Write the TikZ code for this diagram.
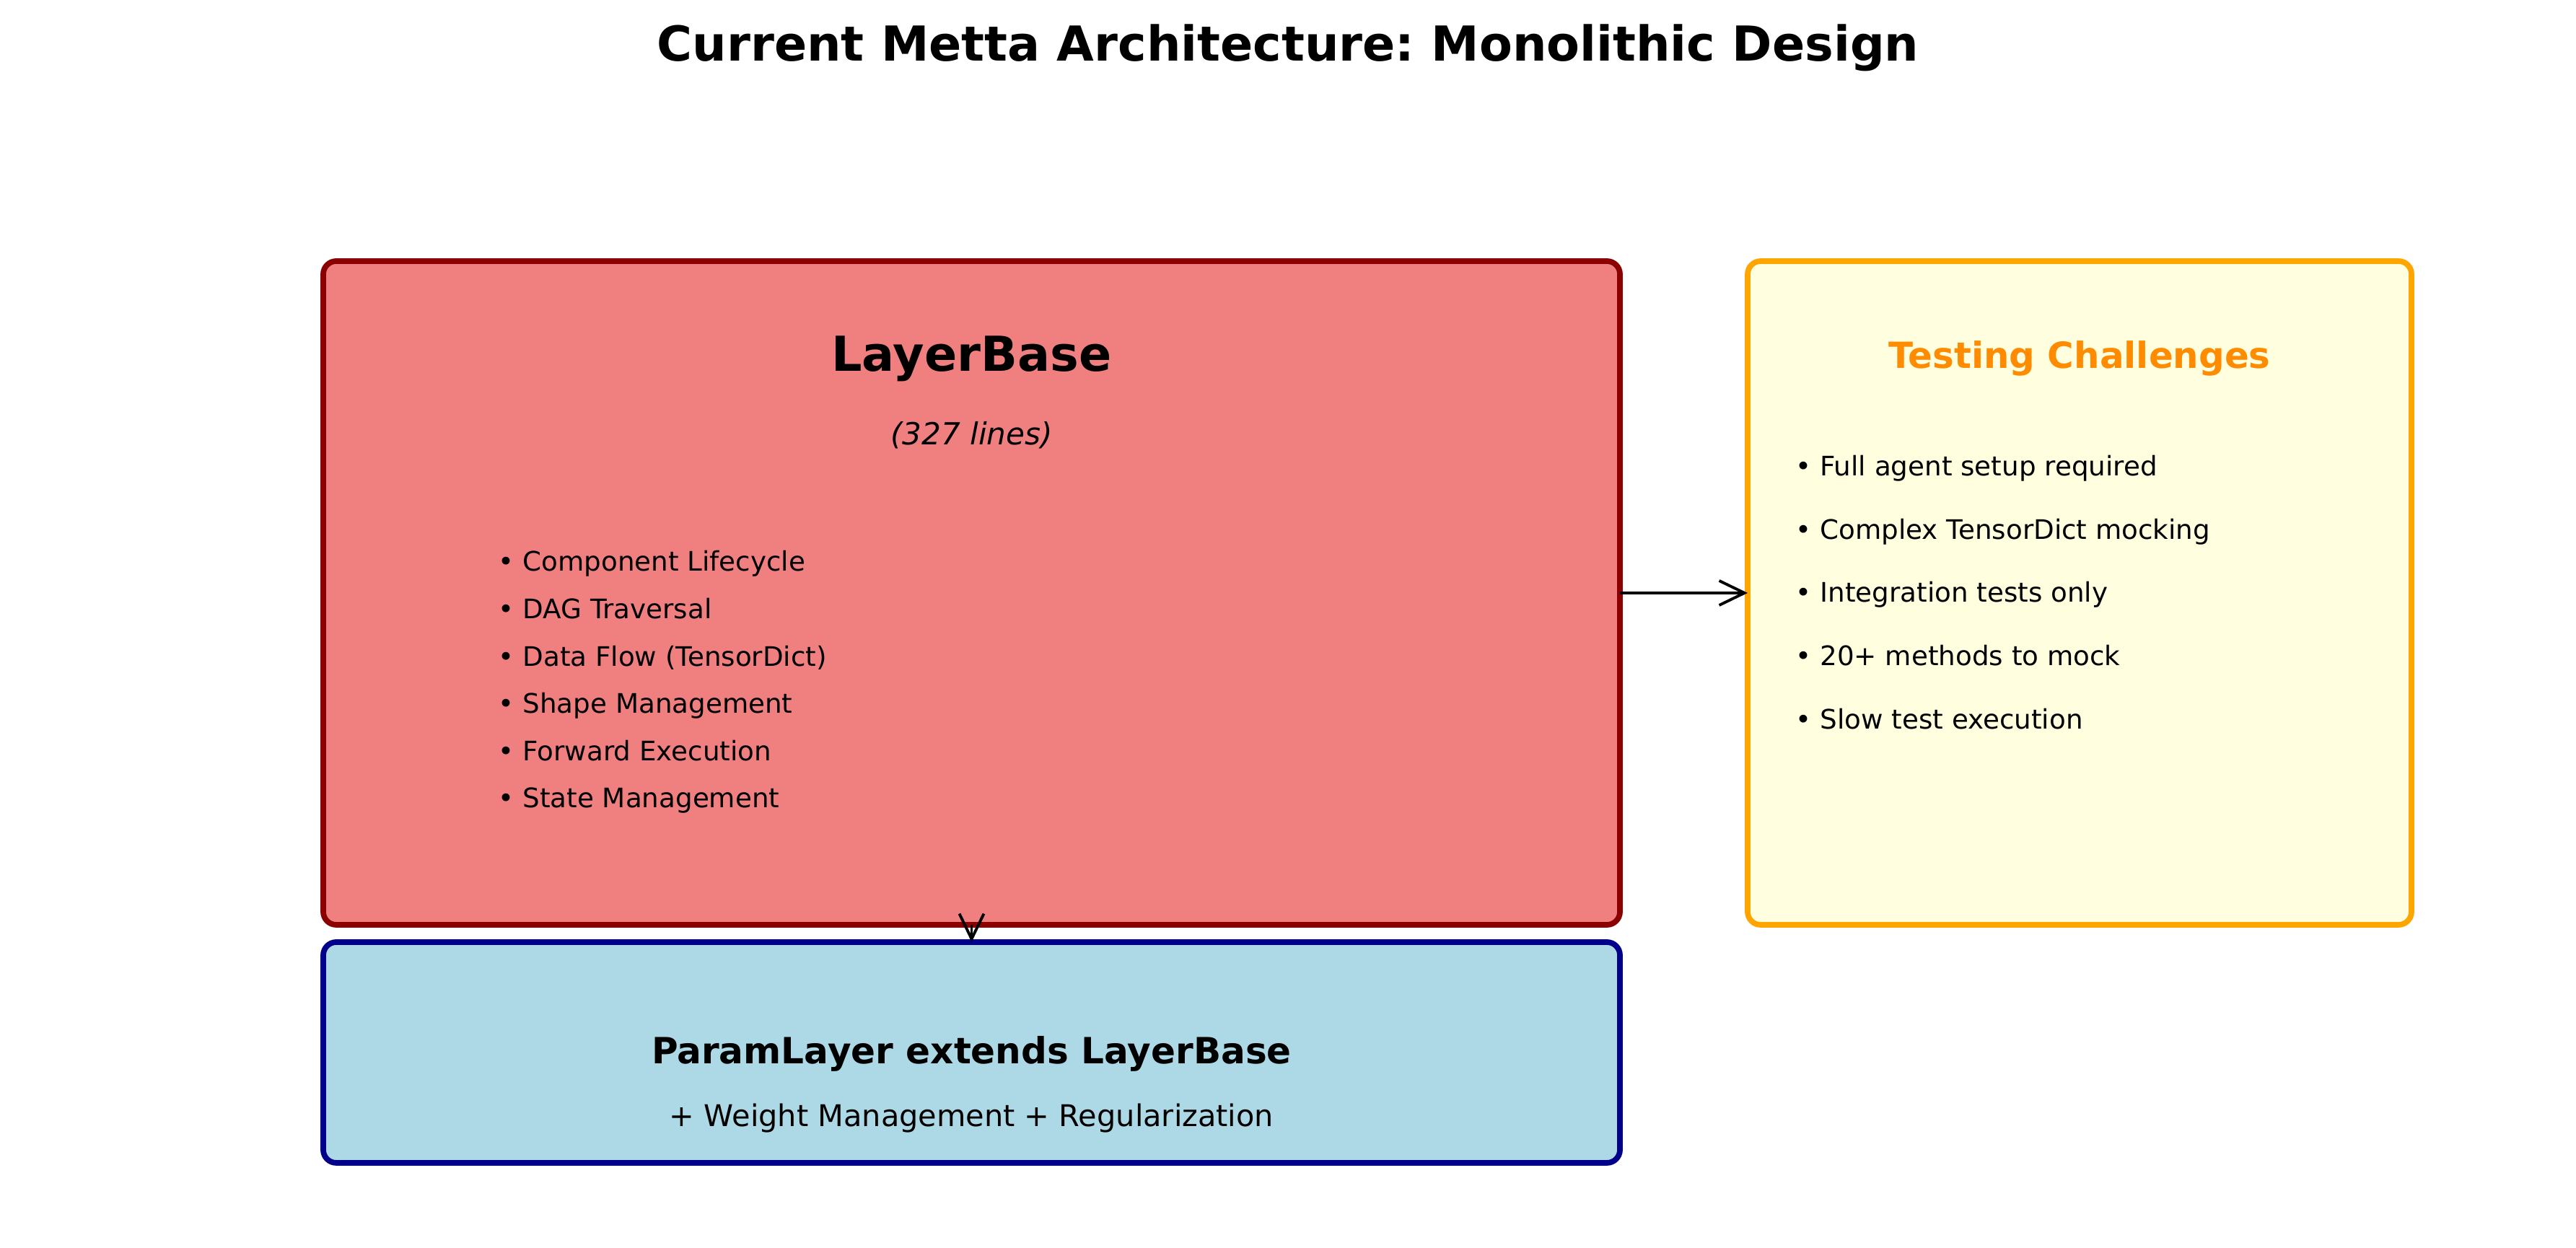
\documentclass[tikz,border=0pt]{standalone}
\usepackage{fontspec}
\setmainfont{DejaVu Sans}
\usetikzlibrary{arrows.meta,positioning}
\definecolor{lcoral}{HTML}{F08080}
\definecolor{dred}{HTML}{8B0000}
\definecolor{lblue}{HTML}{ADD8E6}
\definecolor{dblue}{HTML}{00008B}
\definecolor{lyellow}{HTML}{FFFFE0}
\definecolor{orangeline}{HTML}{FFA500}
\definecolor{dorange}{HTML}{FF8C00}
\frenchspacing

\begin{document}
\begin{tikzpicture}
[>={Straight Barb[length=3.5mm,width=3.4mm]},
box/.style = {draw, rounded corners=1.8mm, line width=2.2pt, outer sep=0pt, inner sep=0pt},
item/.style = {anchor=west, inner sep=0pt, text height=0.75em, text depth=0.22em, font=\fontsize{10.6}{13}\selectfont},]
\useasboundingbox (0,0) rectangle (35.7,17.3);
\node (title) at (17.85,16.64) [font=\fontsize{19}{23}\selectfont\bfseries] {Current Metta Architecture: Monolithic Design};

\node (layer) at (13.465,9.08) [box, draw=dred, fill=lcoral, minimum width=17.97cm, minimum height=9.2cm] {};
\node (tests) at (28.82,9.08) [box, draw=orangeline, fill=lyellow, minimum width=9.2cm, minimum height=9.2cm] {};
\node (param) at (13.465,2.71) [box, draw=dblue, fill=lblue, minimum width=17.97cm, minimum height=3.06cm] {};

\node (layername) at (13.465,12.33) [font=\fontsize{19}{23}\selectfont\bfseries] {LayerBase};
\node (layerlines) at (13.465,11.27) [font=\fontsize{12}{14}\selectfont\itshape] {(327 lines)};
\node (lb1) at (6.90,9.48) [item] {• Component Lifecycle};
\node (lb2) at (6.90,8.82) [item] {• DAG Traversal};
\node (lb3) at (6.90,8.16) [item] {• Data Flow (TensorDict)};
\node (lb4) at (6.90,7.51) [item] {• Shape Management};
\node (lb5) at (6.90,6.85) [item] {• Forward Execution};
\node (lb6) at (6.90,6.20) [item] {• State Management};

\node (testname) at (28.82,12.33) [font=\fontsize{14.2}{17}\selectfont\bfseries, text=dorange] {Testing Challenges};
\node (tc1) at (24.88,10.80) [item] {• Full agent setup required};
\node (tc2) at (24.88,9.92) [item] {• Complex TensorDict mocking};
\node (tc3) at (24.88,9.05) [item] {• Integration tests only};
\node (tc4) at (24.88,8.17) [item] {• 20+ methods to mock};
\node (tc5) at (24.88,7.29) [item] {• Slow test execution};

\node (paramname) at (13.465,2.69) [font=\fontsize{14.25}{17}\selectfont\bfseries] {ParamLayer extends LayerBase};
\node (paramsub) at (13.465,1.80) [font=\fontsize{11.8}{14}\selectfont] {+ Weight Management + Regularization};

\draw[->, line width=1.1pt] (layer.east)--(tests.west);
\draw[->, line width=1.1pt] (layer.south)--(param.north);
\end{tikzpicture}
\end{document}
